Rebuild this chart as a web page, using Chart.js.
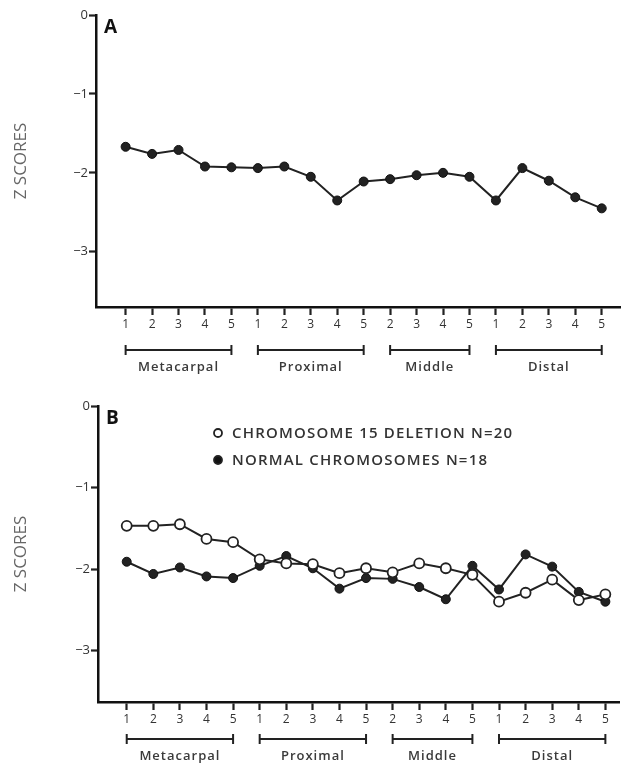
<!DOCTYPE html>
<html lang="en">
<head>
<meta charset="UTF-8">
<script src="https://cdn.jsdelivr.net/npm/chart.js"></script>
<title>Z scores by bone</title>
<style>
  body { margin: 0; background: #fff; }
  canvas { display: block; }
</style>
</head>
<body>
<canvas id="chart-a" width="626" height="385"></canvas>
<canvas id="chart-b" width="626" height="386"></canvas>
<script>
// bone positions along the hand (x categories)
const boneLabels = ['1','2','3','4','5', '1','2','3','4','5', '2','3','4','5', '1','2','3','4','5'];
const groupNames = ['Metacarpal', 'Proximal', 'Middle', 'Distal'];
const groupStart = [0, 5, 10, 14];
const groupEnd = [4, 9, 13, 18];
const yTicks = [-3, -2, -1, 0];

// panel A
const panelA = [-1.67, -1.76, -1.71, -1.92, -1.93, -1.94, -1.92, -2.05, -2.35, -2.11,
                -2.08, -2.03, -2.00, -2.05, -2.35, -1.94, -2.10, -2.31, -2.45];
// panel B
const deletion15 = [-1.47, -1.47, -1.45, -1.63, -1.67, -1.88, -1.93, -1.94, -2.05, -1.99,
                    -2.04, -1.93, -1.99, -2.07, -2.40, -2.29, -2.13, -2.38, -2.31];
const normal = [-1.91, -2.06, -1.98, -2.09, -2.11, -1.96, -1.84, -1.99, -2.24, -2.11,
                -2.12, -2.22, -2.37, -1.96, -2.25, -1.82, -1.97, -2.28, -2.40];

const legendLabels = ['CHROMOSOME 15 DELETION N=20', 'NORMAL CHROMOSOMES N=18'];

Chart.defaults.font.family = "'Open Sans', 'DejaVu Sans', sans-serif";
Chart.defaults.color = '#333';

const toPoints = arr => arr.map((v, i) => ({ x: i, y: v }));

// panel letter, group brackets under the axis, and the legend in B
const decor = {
  id: 'decor',
  afterDraw(chart, args, opts) {
    const ctx = chart.ctx;
    const x = chart.scales.x;
    const area = chart.chartArea;
    ctx.save();
    ctx.fillStyle = '#111';
    ctx.font = "bold 19px 'Open Sans'";
    ctx.textBaseline = 'middle';
    ctx.fillText(opts.letter, area.left + 8, area.top + 13);

    ctx.strokeStyle = '#222';
    ctx.lineWidth = 2;
    const by = area.bottom + opts.bracketGap;
    for (let g = 0; g < groupNames.length; g++) {
      const x1 = x.getPixelForValue(groupStart[g]);
      const x2 = x.getPixelForValue(groupEnd[g]);
      ctx.beginPath();
      ctx.moveTo(x1, by); ctx.lineTo(x2, by);
      ctx.moveTo(x1, by - 5); ctx.lineTo(x1, by + 5);
      ctx.moveTo(x2, by - 5); ctx.lineTo(x2, by + 5);
      ctx.stroke();
      ctx.fillStyle = '#3a3a3a';
      ctx.font = "600 13px 'Open Sans'";
      ctx.letterSpacing = '1px';
      ctx.textAlign = 'center';
      ctx.fillText(groupNames[g], (x1 + x2) / 2, by + opts.labelGap);
    }

    if (opts.legend) {
      ctx.textAlign = 'left';
      ctx.font = "600 15px 'Open Sans'";
      ctx.letterSpacing = '1.2px';
      const rows = [48, 75];
      legendLabels.forEach((t, i) => {
        ctx.beginPath();
        ctx.arc(218, rows[i], 4, 0, Math.PI * 2);
        ctx.fillStyle = i === 0 ? '#fff' : '#111';
        ctx.fill();
        ctx.lineWidth = 1.8;
        ctx.strokeStyle = '#222';
        ctx.stroke();
        ctx.fillStyle = '#333';
        ctx.fillText(t, 232, rows[i] + 1);
      });
    }
    ctx.restore();
  }
};

function makeOptions(cfg) {
  return {
    responsive: false,
    animation: false,
    devicePixelRatio: 1,
    layout: { padding: { top: cfg.top, right: 0, left: 0, bottom: 0 } },
    plugins: {
      legend: { display: false },
      tooltip: { enabled: false },
      decor: { letter: cfg.letter, bracketGap: cfg.bracketGap, labelGap: 17, legend: cfg.legend }
    },
    scales: {
      x: {
        type: 'linear',
        min: cfg.xMin,
        max: cfg.xMax,
        afterBuildTicks: s => { s.ticks = boneLabels.map((_, i) => ({ value: i })); },
        afterFit: s => { s.height = cfg.xHeight; },
        ticks: {
          callback: v => boneLabels[v],
          color: '#333',
          font: { size: 12 },
          padding: 2,
          maxRotation: 0,
          autoSkip: false
        },
        grid: { drawOnChartArea: false, tickLength: 8, tickWidth: 2.2, tickColor: '#222' },
        border: { color: '#111', width: 2.5 }
      },
      y: {
        min: cfg.yMin,
        max: 0,
        afterBuildTicks: s => { s.ticks = yTicks.map(v => ({ value: v })); },
        afterFit: s => { s.width = cfg.yWidth; },
        ticks: {
          callback: v => (v === 0 ? '0' : '\u2212' + Math.abs(v)),
          color: '#333',
          font: { size: 13 },
          padding: 1
        },
        grid: { drawOnChartArea: false, tickLength: 7, tickWidth: 2.2, tickColor: '#222' },
        border: { color: '#111', width: 2.5 },
        title: {
          display: true,
          text: 'Z SCORES',
          color: '#666',
          font: { size: 17 },
          padding: { top: 11, bottom: 0 }
        }
      }
    }
  };
}

new Chart(document.getElementById('chart-a'), {
  type: 'line',
  data: {
    datasets: [{
      label: 'Z scores',
      data: toPoints(panelA),
      borderColor: '#222',
      borderWidth: 2,
      pointRadius: 4.5,
      pointBackgroundColor: '#222',
      pointBorderColor: '#111',
      pointBorderWidth: 1,
      tension: 0
    }]
  },
  options: makeOptions({ letter: 'A', top: 15, xMin: -1.12, xMax: 18.71, yMin: -3.7,
                         xHeight: 78, yWidth: 96, bracketGap: 43, legend: false }),
  plugins: [decor]
});

new Chart(document.getElementById('chart-b'), {
  type: 'line',
  data: {
    datasets: [{
      label: legendLabels[0],
      data: toPoints(deletion15),
      borderColor: '#222',
      borderWidth: 2,
      pointRadius: 5,
      pointBackgroundColor: '#fff',
      pointBorderColor: '#222',
      pointBorderWidth: 1.8,
      tension: 0
    }, {
      label: legendLabels[1],
      data: toPoints(normal),
      borderColor: '#222',
      borderWidth: 2,
      pointRadius: 4.5,
      pointBackgroundColor: '#222',
      pointBorderColor: '#111',
      pointBorderWidth: 1,
      tension: 0
    }]
  },
  options: makeOptions({ letter: 'B', top: 21, xMin: -1.08, xMax: 18.52, yMin: -3.63,
                         xHeight: 69, yWidth: 98, bracketGap: 37, legend: true }),
  plugins: [decor]
});
</script>
</body>
</html>
